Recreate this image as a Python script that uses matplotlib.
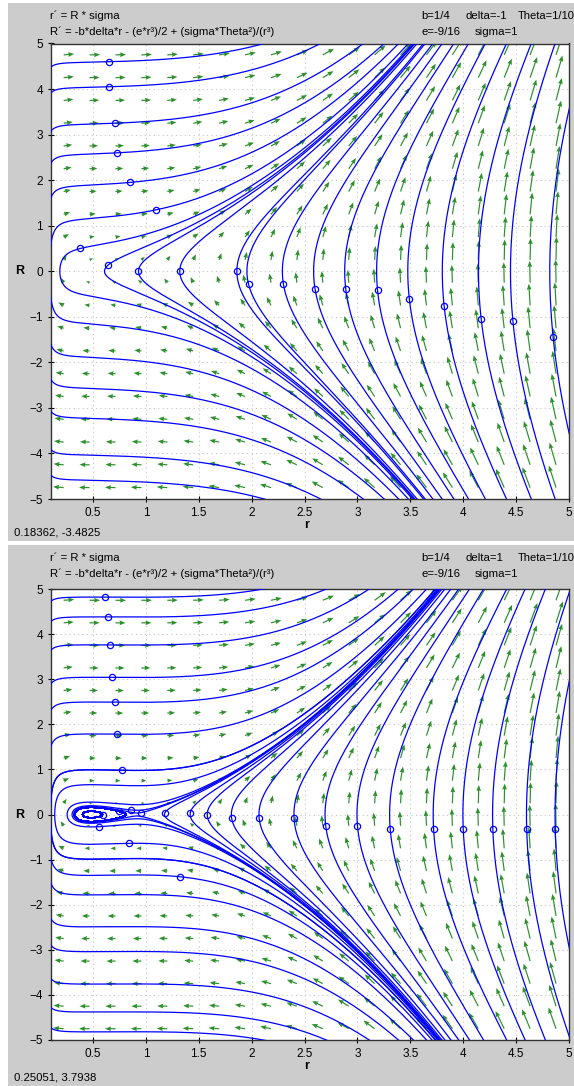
import numpy as np
import matplotlib
matplotlib.use("Agg")
import matplotlib.pyplot as plt
from matplotlib.patches import Rectangle

plt.rcParams['font.family'] = ['Liberation Sans', 'DejaVu Sans']

# model parameters (shared) and the delta value of each panel
b = 0.25
e = -9 / 16
theta = 0.1
sigma = 1.0
deltas = [-1, 1]
delta_labels = ["delta=-1", "delta=1"]
status_texts = ["0.18362, -3.4825", "0.25051, 3.7938"]

# initial points of the solution curves (marked with circles)
top_r = [0.65, 0.65, 0.71, 0.73, 0.85, 1.10, 0.38, 0.64, 0.93, 1.32, 1.86,
         1.97, 2.30, 2.60, 2.89, 3.19, 3.49, 3.82, 4.17, 4.47, 4.85]
top_R = [4.60, 4.05, 3.25, 2.60, 1.95, 1.35, 0.50, 0.13, 0.00, 0.00, 0.00,
         -0.28, -0.28, -0.40, -0.40, -0.42, -0.60, -0.77, -1.05, -1.10, -1.45]
# extra curves without markers (lower left)
top_r_plain = [0.65, 0.65, 0.71, 0.73, 0.85, 1.10]
top_R_plain = [-4.60, -4.05, -3.25, -2.60, -1.95, -1.35]

bot_r = [0.61, 0.64, 0.66, 0.68, 0.71, 0.73, 0.77, 0.84, 1.32, 0.56, 0.59,
         0.75, 0.86, 0.95, 1.18, 1.42, 1.58, 1.81, 2.07, 2.40, 2.70, 3.00,
         3.31, 3.72, 4.00, 4.28, 4.60, 4.87]
bot_R = [4.82, 4.38, 3.76, 3.04, 2.49, 1.78, 0.98, -0.64, -1.38, -0.27, 0.00,
         0.07, 0.10, 0.04, 0.04, 0.04, 0.00, -0.07, -0.07, -0.07, -0.25, -0.25,
         -0.33, -0.33, -0.33, -0.33, -0.33, -0.33]
bot_r_plain = [0.61, 0.64, 0.66, 0.68, 0.71, 0.73, 0.77]
bot_R_plain = [-4.82, -4.38, -3.76, -3.04, -2.49, -1.78, -0.98]

seeds = [(top_r, top_R, top_r_plain, top_R_plain),
         (bot_r, bot_R, bot_r_plain, bot_R_plain)]

xticks = [0.5, 1, 1.5, 2, 2.5, 3, 3.5, 4, 4.5, 5]
xticklabels = ["0.5", "1", "1.5", "2", "2.5", "3", "3.5", "4", "4.5", "5"]
yticks = [-5, -4, -3, -2, -1, 0, 1, 2, 3, 4, 5]

XMIN, XMAX, YMIN, YMAX = 0.1, 5.0, -5.0, 5.0
W, H = 574, 1086
BLUE = '#0000ff'
GREEN = '#168416'
GRAY = '#cccccc'


def field(r, R, delta):
    dr = R * sigma
    dR = -b * delta * r - (e * r ** 3) / 2 + (sigma * theta ** 2) / (r ** 3)
    return dr, dR


def trace(r0, R0, delta, sx, sy, nmax=2600, ds=1.0):
    """Integrate along the curve in screen arc length, both directions."""
    pieces = []
    for sgn in (1, -1):
        def d(p):
            f0, f1 = field(p[0], p[1], delta)
            n = np.hypot(f0 * sx, f1 * sy)
            if n < 1e-12:
                return None
            return sgn * np.array([f0, f1]) / n
        p = np.array([r0, R0], float)
        pts = [p.copy()]
        for _ in range(nmax):
            k1 = d(p)
            if k1 is None:
                break
            k2 = d(p + 0.5 * ds * k1)
            k3 = d(p + 0.5 * ds * k2)
            k4 = d(p + ds * k3)
            if k2 is None or k3 is None or k4 is None:
                break
            p = p + ds / 6 * (k1 + 2 * k2 + 2 * k3 + k4)
            pts.append(p.copy())
            if p[0] < XMIN - 0.01 or p[0] > XMAX + 0.02 or abs(p[1]) > YMAX + 0.05:
                break
        pieces.append(np.array(pts))
    return np.vstack([pieces[1][::-1], pieces[0][1:]])


def px_rect(x0, y0, x1, y1):
    return [x0 / W, 1 - y1 / H, (x1 - x0) / W, (y1 - y0) / H]


fig = plt.figure(figsize=(W / 100, H / 100), dpi=100)
fig.patch.set_facecolor('white')

panel_boxes = [(8, 3, 574, 541), (8, 545, 574, 1086)]
axes_boxes = [(50.7, 43.5, 569, 499), (50.7, 589, 569, 1040)]

for k in range(2):
    px0, py0, px1, py1 = panel_boxes[k]
    fig.patches.append(Rectangle((px0 / W, 1 - py1 / H), (px1 - px0) / W,
                                 (py1 - py0) / H, transform=fig.transFigure,
                                 facecolor=GRAY, edgecolor='none', zorder=-5))
    ax0, ay0, ax1, ay1 = axes_boxes[k]
    ax = fig.add_axes(px_rect(ax0, ay0, ax1, ay1))
    ax.set_facecolor('white')
    sx = (ax1 - ax0) / (XMAX - XMIN)
    sy = (ay1 - ay0) / (YMAX - YMIN)
    delta = deltas[k]

    # direction field
    gx = XMIN + (np.arange(20) + 0.5) * (XMAX - XMIN) / 20
    gy = YMIN + (np.arange(20) + 0.5) * (YMAX - YMIN) / 20
    GX, GY = np.meshgrid(gx, gy)
    U, V = field(GX, GY, delta)
    mag = np.hypot(U, V)
    su, sv = U * sx, V * sy
    sn = np.hypot(su, sv)
    L = 10.5 * (mag / 4.75) ** 0.4
    ax.quiver(GX, GY, su / sn * L, sv / sn * L, angles='uv',
              scale_units='dots', scale=1, units='dots', width=1.2,
              headwidth=4, headlength=5, headaxislength=4.5,
              color=GREEN, alpha=0.9, zorder=2)

    # solution curves
    rs, Rs, rp, Rp = seeds[k]
    for r0, R0 in zip(list(rs) + list(rp), list(Rs) + list(Rp)):
        c = trace(r0, R0, delta, sx, sy)
        ax.plot(c[:, 0], c[:, 1], color=BLUE, lw=0.9, zorder=3)
    ax.plot(rs, Rs, 'o', ms=4.5, mfc='none', mec=BLUE, mew=0.9, zorder=4)

    ax.set_xlim(XMIN, XMAX)
    ax.set_ylim(YMIN, YMAX)
    ax.set_xticks(xticks)
    ax.set_xticklabels(xticklabels)
    ax.set_yticks(yticks)
    ax.grid(True, color='#c4c4c4', lw=0.8, ls=(0, (1, 3)))
    ax.set_axisbelow(True)
    ax.tick_params(direction='inout', length=5, width=0.8, labelsize=8.5,
                   pad=3, colors='black')
    for sp in ax.spines.values():
        sp.set_linewidth(1.0)
        sp.set_color('#333333')

    # axis names
    fig.text(20 / W, 1 - ((ay0 + ay1) / 2) / H, "R", fontsize=9,
             fontweight='bold', ha='center', va='center')
    fig.text(307 / W, 1 - (ay1 + 26) / H, "r", fontsize=9,
             fontweight='bold', ha='center', va='center')

    # equations and parameters
    hy = py0 + 13
    fig.text(50 / W, 1 - hy / H, "r\u00b4 = R * sigma", fontsize=8.2,
             va='center', ha='left')
    fig.text(50 / W, 1 - (hy + 16) / H,
             "R\u00b4 = -b*delta*r - (e*r\u00b3)/2 + (sigma*Theta\u00b2)/(r\u00b3)",
             fontsize=8.2, va='center', ha='left')
    fig.text(421 / W, 1 - hy / H, "b=1/4", fontsize=8.2, va='center')
    fig.text(465 / W, 1 - hy / H, delta_labels[k], fontsize=8.2, va='center')
    fig.text(518 / W, 1 - hy / H, "Theta=1/10", fontsize=8.0, va='center')
    fig.text(421 / W, 1 - (hy + 16) / H, "e=-9/16", fontsize=8.2, va='center')
    fig.text(475 / W, 1 - (hy + 16) / H, "sigma=1", fontsize=8.2, va='center')

    # cursor readout
    fig.text(14 / W, 1 - (py1 - 9) / H, status_texts[k], fontsize=8.2,
             va='center', ha='left')

fig.savefig("out.png", dpi=100, facecolor='white')
